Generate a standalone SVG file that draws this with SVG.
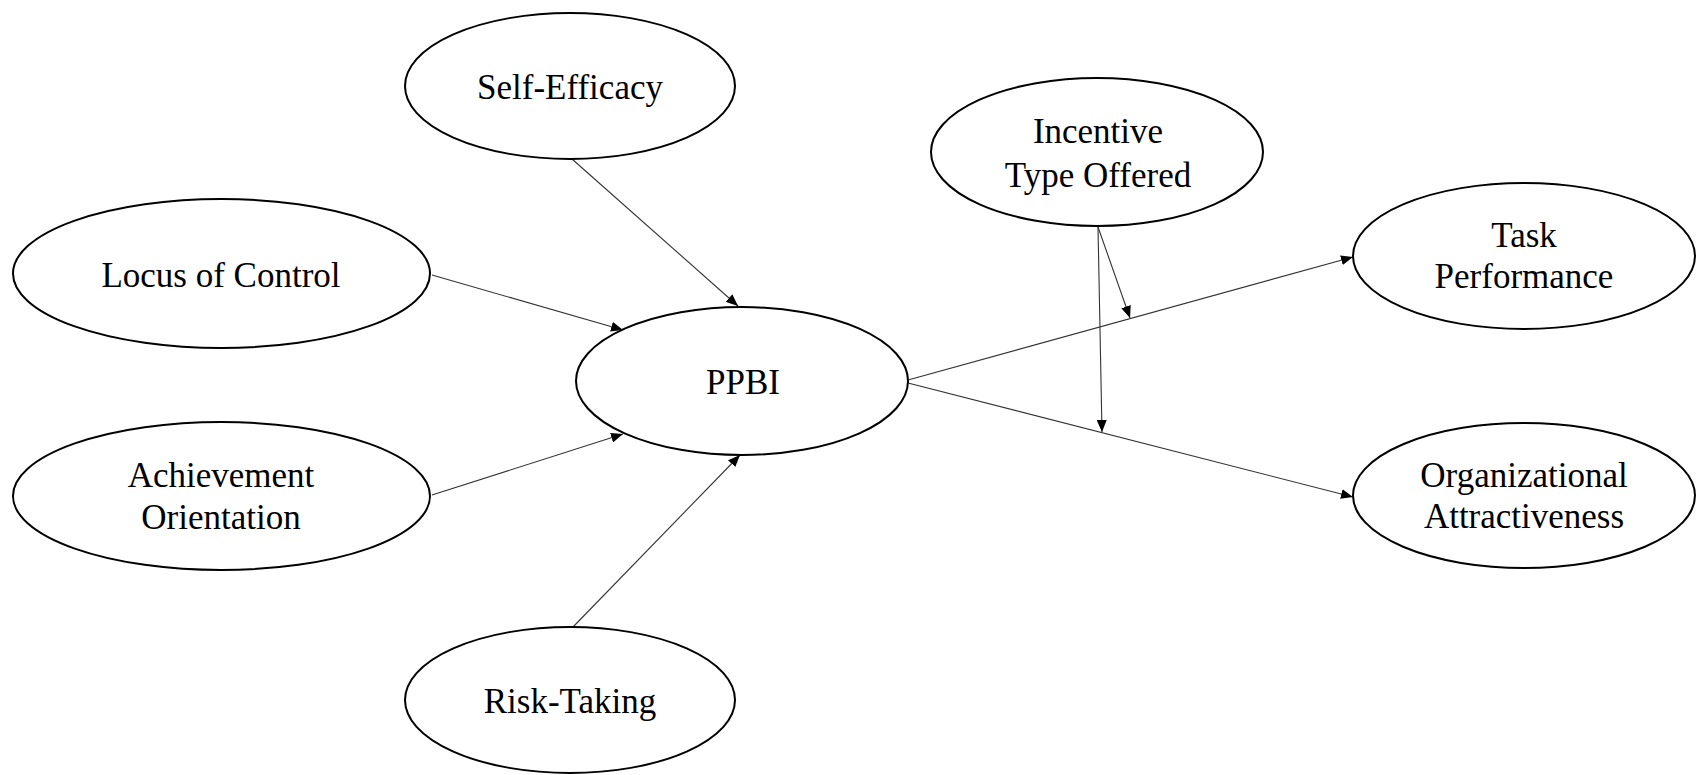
<svg xmlns="http://www.w3.org/2000/svg" width="1697" height="775" viewBox="0 0 1697 775">
  <style>
    .node ellipse { fill: #ffffff; stroke: #000000; stroke-width: 2; }
    .node text { font-family: "Liberation Serif", "Times New Roman", serif; font-size: 35px; fill: #000000; text-anchor: middle; }
    .edge { stroke: #333333; stroke-width: 1.1; fill: none; marker-end: url(#arrow); }
  </style>
  <defs>
    <marker id="arrow" markerUnits="userSpaceOnUse" markerWidth="13" markerHeight="10" refX="12" refY="5" orient="auto">
      <path d="M0,0 L12,5 L0,10 Z" fill="#000000"/>
    </marker>
  </defs>
  <rect width="1697" height="775" fill="#ffffff"/>

  <!-- connectors -->
  <g id="connectors">
    <line class="edge" x1="572" y1="159" x2="738" y2="306"/>
    <line class="edge" x1="432" y1="275" x2="623" y2="330"/>
    <line class="edge" x1="432" y1="495" x2="623" y2="434"/>
    <line class="edge" x1="573" y1="627" x2="740" y2="455"/>
    <line class="edge" x1="908" y1="380" x2="1353" y2="257"/>
    <line class="edge" x1="908" y1="383" x2="1353" y2="497"/>
    <line class="edge" x1="1098" y1="227" x2="1130" y2="318"/>
    <line class="edge" x1="1098" y1="227" x2="1102" y2="432"/>
  </g>

  <g id="self-efficacy" class="node">
    <ellipse cx="570" cy="86" rx="165" ry="73"/>
    <text x="570" y="99">Self-Efficacy</text>
  </g>

  <g id="locus-of-control" class="node">
    <ellipse cx="221.5" cy="273.5" rx="208.5" ry="74.5"/>
    <text x="221" y="287">Locus of Control</text>
  </g>

  <g id="ppbi" class="node">
    <ellipse cx="742" cy="381" rx="166" ry="74"/>
    <text x="743" y="394">PPBI</text>
  </g>

  <g id="achievement-orientation" class="node">
    <ellipse cx="221.5" cy="496" rx="208.5" ry="74"/>
    <text x="221" y="487">Achievement</text>
    <text x="221" y="529">Orientation</text>
  </g>

  <g id="risk-taking" class="node">
    <ellipse cx="570" cy="700" rx="165" ry="73"/>
    <text x="570" y="713">Risk-Taking</text>
  </g>

  <g id="incentive-type" class="node">
    <ellipse cx="1097" cy="152" rx="166" ry="74"/>
    <text x="1098" y="143">Incentive</text>
    <text x="1098" y="187">Type Offered</text>
  </g>

  <g id="task-performance" class="node">
    <ellipse cx="1524" cy="256" rx="171" ry="73"/>
    <text x="1524" y="247">Task</text>
    <text x="1524" y="288">Performance</text>
  </g>

  <g id="organizational-attractiveness" class="node">
    <ellipse cx="1524" cy="495.5" rx="171" ry="72.5"/>
    <text x="1524" y="487">Organizational</text>
    <text x="1524" y="528">Attractiveness</text>
  </g>
</svg>
